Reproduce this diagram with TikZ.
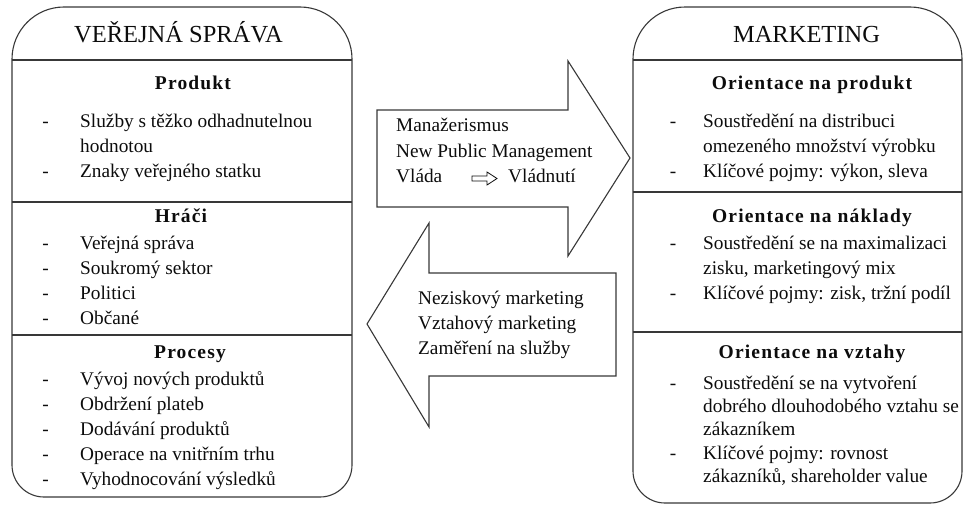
\documentclass[tikz,border=0pt]{standalone}
\usepackage{fontspec}
\setmainfont{Liberation Serif}
\newfontfamily\spacedserif[LetterSpace=6]{Liberation Serif}
\definecolor{linec}{HTML}{383838}
\definecolor{txtc}{HTML}{0C0C0C}
\tikzset{
  outline/.style={draw=linec, line width=1.1pt},
  txt/.style={anchor=base west, inner sep=0pt, text=txtc, font=\fontsize{19.3}{25}\selectfont},
  bul/.style={anchor=base, inner sep=0pt, text=txtc, font=\fontsize{19.3}{25}\selectfont},
  hd/.style={anchor=base, inner sep=0pt, text=txtc, font=\fontsize{19.5}{25}\selectfont\spacedserif\bfseries},
  ttl/.style={anchor=base, inner sep=0pt, text=txtc, font=\fontsize{24.5}{30}\selectfont},
}
\begin{document}
\begin{tikzpicture}[x=1pt,y=-1pt]
\useasboundingbox (0,0) rectangle (965,506);

% ---------- left box ----------
\draw[outline] (12,59) arc[start angle=180,end angle=270,radius=52] -- (300,7)
  arc[start angle=270,end angle=360,radius=52] -- (352,465)
  arc[start angle=0,end angle=90,radius=32] -- (44,497)
  arc[start angle=90,end angle=180,radius=32] -- cycle;
\coordinate (L1a) at (12,60);  \coordinate (L1b) at (352,60);
\coordinate (L2a) at (12,202); \coordinate (L2b) at (352,202);
\coordinate (L3a) at (12,335); \coordinate (L3b) at (352,335);
\draw[outline] (L1a) -- (L1b);
\draw[outline] (L2a) -- (L2b);
\draw[outline] (L3a) -- (L3b);

\node[ttl] (lt) at (178.5,42) {VEŘEJNÁ SPRÁVA};
\node[hd] (lh1) at (193,89) {Produkt};
\node[bul] (ld1) at (45.5,127) {-};
\node[txt] (l1) at (80,127) {Služby s těžko odhadnutelnou};
\node[txt] (l2) at (80,152) {hodnotou};
\node[bul] (ld2) at (45.5,177) {-};
\node[txt] (l3) at (80,177) {Znaky veřejného statku};

\node[hd] (lh2) at (181,222) {Hráči};
\node[bul] (ld3) at (45.5,249) {-};
\node[txt] (l4) at (80,249) {Veřejná správa};
\node[bul] (ld4) at (45.5,274) {-};
\node[txt] (l5) at (80,274) {Soukromý sektor};
\node[bul] (ld5) at (45.5,299) {-};
\node[txt] (l6) at (80,299) {Politici};
\node[bul] (ld6) at (45.5,324) {-};
\node[txt] (l7) at (80,324) {Občané};

\node[hd] (lh3) at (190,358) {Procesy};
\node[bul] (ld7) at (45.5,385) {-};
\node[txt] (l8) at (80,385) {Vývoj nových produktů};
\node[bul] (ld8) at (45.5,410) {-};
\node[txt] (l9) at (80,410) {Obdržení plateb};
\node[bul] (ld9) at (45.5,435) {-};
\node[txt] (l10) at (80,435) {Dodávání produktů};
\node[bul] (ld10) at (45.5,460) {-};
\node[txt] (l11) at (80,460) {Operace na vnitřním trhu};
\node[bul] (ld11) at (45.5,485) {-};
\node[txt] (l12) at (80,485) {Vyhodnocování výsledků};

% ---------- right box ----------
\draw[outline] (633,59) arc[start angle=180,end angle=270,radius=52] -- (910,7)
  arc[start angle=270,end angle=360,radius=52] -- (962,471)
  arc[start angle=0,end angle=90,radius=32] -- (665,503)
  arc[start angle=90,end angle=180,radius=32] -- cycle;
\coordinate (R1a) at (633,60);  \coordinate (R1b) at (962,60);
\coordinate (R2a) at (633,192); \coordinate (R2b) at (962,192);
\coordinate (R3a) at (633,332); \coordinate (R3b) at (962,332);
\draw[outline] (R1a) -- (R1b);
\draw[outline] (R2a) -- (R2b);
\draw[outline] (R3a) -- (R3b);

\node[ttl] (rt) at (806.5,42) {MARKETING};
\node[hd] (rh1) at (812,89) {Orientace na produkt};
\node[bul] (rd1) at (673,127) {-};
\node[txt] (r1) at (703,127) {Soustředění na distribuci};
\node[txt] (r2) at (703,152) {omezeného množství výrobku};
\node[bul] (rd2) at (673,177) {-};
\node[txt] (r3) at (703,177) {Klíčové pojmy: výkon, sleva};

\node[hd] (rh2) at (812,222) {Orientace na náklady};
\node[bul] (rd3) at (673,249) {-};
\node[txt] (r4) at (703,249) {Soustředění se na maximalizaci};
\node[txt] (r5) at (703,274) {zisku, marketingový mix};
\node[bul] (rd4) at (673,299) {-};
\node[txt] (r6) at (703,299) {Klíčové pojmy: zisk, tržní podíl};

\node[hd] (rh3) at (812,358) {Orientace na vztahy};
\node[bul] (rd5) at (673,389) {-};
\node[txt] (r7) at (703,389) {Soustředění se na vytvoření};
\node[txt] (r8) at (703,412) {dobrého dlouhodobého vztahu se};
\node[txt] (r9) at (703,435) {zákazníkem};
\node[bul] (rd6) at (673,459) {-};
\node[txt] (r10) at (703,459) {Klíčové pojmy: rovnost};
\node[txt] (r11) at (703,482) {zákazníků, shareholder value};

% ---------- upper (right-pointing) arrow ----------
\draw[outline, fill=white] (377,110) -- (568,110) -- (568,61) -- (630,158)
  -- (568,256) -- (568,207) -- (377,207) -- cycle;
\node[txt] (a1) at (396,131) {Manažerismus};
\node[txt] (a2) at (396,157) {New Public Management};
\node[txt] (a3) at (396,182) {Vláda};
\node[txt] (a4) at (508,182) {Vládnutí};
\draw[draw=txtc, line width=0.8pt] (472,176) -- (487,176) -- (487,172) -- (497,178.5)
  -- (487,185) -- (487,181) -- (472,181) -- cycle;

% ---------- lower (left-pointing) arrow ----------
\draw[outline, fill=white] (616,273) -- (429,273) -- (429,223) -- (367,324)
  -- (429,427) -- (429,376) -- (616,376) -- cycle;
\node[txt] (b1) at (418,304) {Neziskový marketing};
\node[txt] (b2) at (418,329) {Vztahový marketing};
\node[txt] (b3) at (418,354) {Zaměření na služby};
\end{tikzpicture}
\end{document}
